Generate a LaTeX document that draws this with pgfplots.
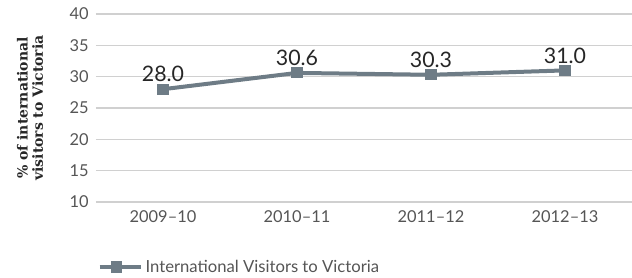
\documentclass[border=0pt]{standalone}
\usepackage{fontspec}
\setmainfont{Lato}
\newfontfamily\slabfont{DejaVu Serif}
\usepackage{pgfplots}
\pgfplotsset{compat=1.18}
\definecolor{linegray}{RGB}{110,124,134}
\definecolor{gridgray}{RGB}{208,208,208}
\definecolor{ticktext}{RGB}{85,85,85}
\begin{document}
\begin{tikzpicture}
\begin{axis}[
  name=ax,
  at={(0,0)}, anchor=south west,
  scale only axis,
  width=402pt, height=141pt,
  xmin=-0.5, xmax=3.5,
  ymin=10, ymax=40,
  ytick={10,15,...,40},
  xtick={0,1,2,3},
  xticklabels={2009--10,2010--11,2011--12,2012--13},
  axis line style={draw=none},
  major tick length=0pt,
  ymajorgrids,
  grid style={gridgray, line width=0.9pt},
  tick label style={font=\fontsize{12.3}{14}\selectfont, text=ticktext},
  /pgf/number format/assume math mode=true,
  yticklabel style={xshift=-2pt},
  xticklabel style={yshift=-3pt},
  ylabel={\% of international\\visitors to Victoria},
  ylabel style={at={(axis description cs:-0.123,0.5)}, anchor=center, align=center,
    font=\slabfont\bfseries\fontsize{10.5}{11.5}\selectfont, text=black!85},
  nodes near coords,
  point meta=explicit symbolic,
  every node near coord/.append style={font=\fontsize{16}{18}\selectfont, text=black!85, anchor=south, yshift=2pt},
  legend style={at={(rel axis cs:0,0)}, anchor=west, yshift=-48.75pt, xshift=-2pt, draw=none, fill=none,
    font=\fontsize{12.5}{14}\selectfont, text=ticktext,
    /tikz/every even column/.append style={column sep=0pt}},
  legend image code/.code={\draw[mark repeat=2, mark phase=2] plot coordinates {(0pt,0pt) (12.75pt,0pt) (25.5pt,0pt)}; \path (25.5pt,0pt) -- (31pt,0pt);},
]
\addplot[color=linegray, line width=3pt, mark=square*, mark size=3.8pt, mark options={solid, line width=0pt}]
  table[meta=label] {
x y label
0 28.0 28.0
1 30.6 30.6
2 30.3 30.3
3 31.0 31.0
};
\addlegendentry{International Visitors to Victoria}
\end{axis}
\pgfresetboundingbox
\path ([xshift=-72pt,yshift=-57pt]ax.south west) rectangle ([yshift=10.5pt]ax.north east);
\end{tikzpicture}
\end{document}
